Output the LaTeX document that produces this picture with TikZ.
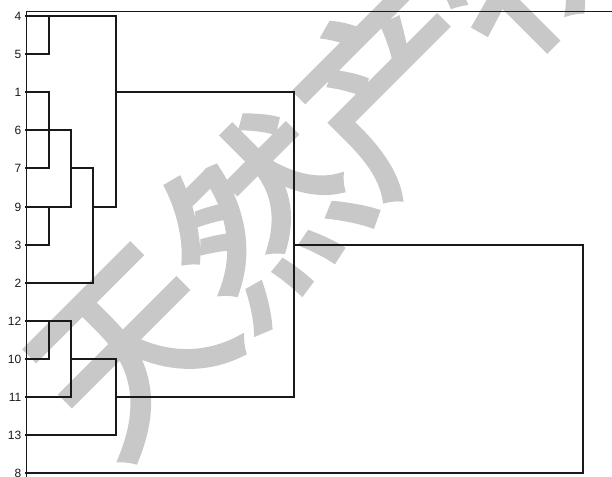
\documentclass[tikz,border=0pt]{standalone}
\usepackage{fontspec}
\setsansfont{Liberation Sans}
\newfontfamily\cjk[FakeBold=3]{Noto Sans CJK SC}
\definecolor{wmgray}{RGB}{200,200,200}
\definecolor{linegray}{RGB}{25,25,25}
\begin{document}
\begin{tikzpicture}[x=1pt, y=-1pt,
    leaf/.style={anchor=east, inner sep=0pt, xshift=-4.5pt, text=linegray,
      font=\sffamily\fontsize{12}{12}\selectfont},
    branch/.style={line width=1.3pt, draw=linegray, line cap=rect},
    frame/.style={line width=0.9pt, draw=linegray},
    wmark/.style={text=wmgray, inner sep=0pt, rotate=45,
      font=\cjk\fontsize{186}{186}\selectfont}]
    \useasboundingbox (0,0) rectangle (612,476);
    % watermark behind everything
    \node[wmark] (wm) at (326,150) {天然产物};

    % frame
    \draw[frame] (26,480) |- (612,11);

    % leaves: label / row / tip of stem
    \foreach \lab/\yy/\tip in {4/16/116, 5/54/49, 1/92/49, 6/130/71, 7/168/49,
        9/207/71, 3/245/49, 2/283/93, 12/321/71, 10/359/49, 11/397/71,
        13/435/116, 8/473/583}{
      \coordinate (s\lab) at (26,\yy);
      \node[leaf] (n\lab) at (s\lab) {\lab};
      \draw[branch] (s\lab) -- (\tip,\yy) coordinate (t\lab);
    }
    \coordinate (jA) at (294,92);

    % upper group
    \draw[branch] (t5) -- (t5 |- s4);
    \draw[branch] (t1) -- (t7);
    \draw[branch] (t3) -- (t3 |- s9);
    \draw[branch] (t6) -- (t9);
    \draw[branch] (t6 |- s7) -| (t2);
    \draw[branch] (t2 |- s9) -| (t4);
    \draw[branch] (t4 |- s1) -- (jA) -- (jA |- s11);

    % lower group
    \draw[branch] (t10) -- (t10 |- s12);
    \draw[branch] (t12) -- (t11);
    \draw[branch] (t12 |- s10) -| (t13);
    \draw[branch] (t13 |- s11) -- (jA |- s11);

    % last join with 8
    \draw[branch] (jA |- s3) -| (t8);
\end{tikzpicture}
\end{document}
